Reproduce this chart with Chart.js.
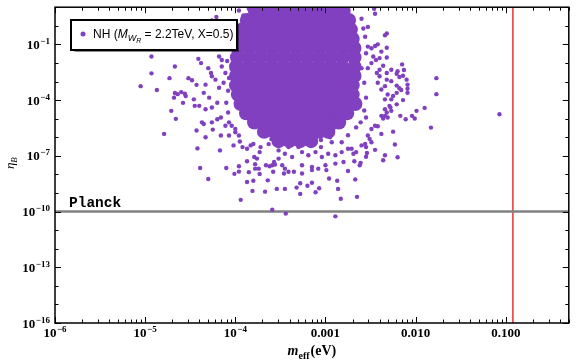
<!DOCTYPE html>
<html>
<head>
<meta charset="utf-8">
<script src="https://cdn.jsdelivr.net/npm/chart.js@4.4.0/dist/chart.umd.min.js"></script>
<style>
  html, body { margin: 0; padding: 0; background: #fff; }
</style>
</head>
<body>
<canvas id="etaChart" width="576" height="363"></canvas>
<script>
// all values are log10: [log10 m_eff (eV), log10 eta_B]

// dense core of the cloud, one row per eta level
const coreEtaLog = [0.8, 0.3, -0.2, -0.7, -1.2, -1.7, -2.2, -2.7, -3.2, -3.7, -4.2, -4.7, -5.2, -5.7, -6.2]
const coreMeffLog = [
    [-3.78, -3.65, -3.52, -3.39, -3.26, -3.13, -3.00, -2.87, -2.80],
    [-3.87, -3.74, -3.61, -3.48, -3.35, -3.22, -3.09, -2.96, -2.83, -2.74],
    [-3.92, -3.79, -3.66, -3.53, -3.40, -3.27, -3.14, -3.01, -2.88, -2.75, -2.72],
    [-3.94, -3.81, -3.68, -3.55, -3.42, -3.29, -3.16, -3.03, -2.90, -2.77, -2.70],
    [-3.97, -3.84, -3.71, -3.58, -3.45, -3.32, -3.19, -3.06, -2.93, -2.80, -2.68],
    [-3.98, -3.85, -3.72, -3.59, -3.46, -3.33, -3.20, -3.07, -2.94, -2.81, -2.68],
    [-3.99, -3.86, -3.73, -3.60, -3.47, -3.34, -3.21, -3.08, -2.95, -2.82, -2.68],
    [-3.99, -3.92, -3.79, -3.66, -3.53, -3.40, -3.27, -3.14, -3.01, -2.88, -2.75, -2.68],
    [-3.99, -3.86, -3.73, -3.60, -3.47, -3.34, -3.21, -3.08, -2.95, -2.82, -2.70],
    [-3.97, -3.91, -3.78, -3.65, -3.52, -3.39, -3.26, -3.13, -3.00, -2.87, -2.74, -2.70],
    [-3.94, -3.81, -3.68, -3.55, -3.42, -3.29, -3.16, -3.03, -2.90, -2.77, -2.67],
    [-3.88, -3.77, -3.64, -3.51, -3.38, -3.25, -3.12, -2.99, -2.86, -2.76],
    [-3.79, -3.68, -3.55, -3.42, -3.29, -3.16, -3.03, -2.90, -2.85],
    [-3.68, -3.57, -3.46, -3.33, -3.20, -3.07, -2.97],
    [-3.52, -3.40, -3.28, -3.16]
]

// scattered points around the core
const leftTail = [
    [-4.93, -1.65], [-4.67, -2.19], [-4.93, -2.56], [-4.73, -2.82], [-5.05, -3.25], [-4.87, -3.46],
    [-4.67, -3.62], [-4.64, -3.68], [-4.68, -3.87], [-4.60, -3.57], [-4.56, -3.66], [-4.52, -2.82],
    [-4.48, -2.93], [-4.43, -3.18], [-4.58, -4.15], [-4.71, -4.58], [-4.66, -5.01], [-4.45, -4.31],
    [-4.41, -1.78], [-4.38, -2.01], [-4.30, -2.28], [-4.27, -2.54], [-4.26, -2.72], [-4.22, -2.90],
    [-4.33, -3.17], [-4.55, -3.78], [-4.46, -3.96], [-4.35, -3.61], [-4.29, -3.87], [-4.40, -4.31],
    [-4.33, -4.49], [-4.26, -4.40], [-4.20, -4.14], [-4.18, -3.34], [-4.13, -3.07], [-4.15, -2.19],
    [-4.11, -2.54], [-4.18, -1.65], [-4.15, -1.84], [-4.26, -5.20], [-4.20, -5.03], [-4.16, -4.94],
    [-4.11, -5.38], [-4.08, -3.50], [-4.10, -4.14], [-4.08, -4.67], [-4.09, -1.90], [-4.07, -2.81]
]
const topEdge = [
    [-4.21, 0.47], [-4.26, 0.29], [-3.96, 0.82], [-3.91, 0.56], [-3.85, 0.91], [-3.80, 0.47],
    [-3.74, 0.74], [-3.59, 0.65], [-2.53, -0.06], [-2.60, 0.38], [-2.46, 0.91], [-2.45, 0.65],
    [-2.56, -0.59], [-2.58, -0.15]
]
const lowerTail = [
    [-4.79, -5.82], [-4.37, -5.20], [-4.35, -5.29], [-4.43, -5.64], [-4.33, -6.00], [-4.25, -5.59],
    [-4.42, -6.60], [-4.16, -5.91], [-4.17, -6.71], [-4.39, -7.66], [-4.30, -8.25], [-4.10, -7.66],
    [-3.96, -7.56], [-4.01, -7.97], [-3.96, -7.85], [-3.87, -8.41], [-3.80, -8.34], [-3.94, -9.37],
    [-3.81, -8.89], [-3.67, -8.93], [-3.64, -8.32], [-3.59, -9.90], [-3.54, -8.78], [-3.85, -7.88],
    [-3.73, -7.98], [-3.87, -7.29], [-3.78, -7.45], [-3.78, -7.69], [-3.74, -7.69], [-3.66, -7.51],
    [-3.62, -7.56], [-3.57, -7.33], [-3.56, -7.47], [-3.79, -7.06], [-3.76, -7.15], [-3.73, -6.80],
    [-4.07, -5.20], [-4.04, -5.38], [-4.00, -5.56], [-4.07, -5.91], [-4.00, -5.73], [-3.96, -5.91],
    [-4.02, -6.44], [-3.95, -6.23], [-3.92, -6.53], [-3.87, -6.62], [-3.83, -6.44], [-3.80, -6.36],
    [-3.44, -10.11], [-2.89, -10.26], [-3.45, -8.78], [-3.28, -9.05], [-3.32, -8.71], [-3.28, -8.48],
    [-3.20, -8.61], [-3.15, -8.45], [-3.11, -8.96], [-3.07, -8.75], [-2.86, -8.78], [-2.83, -9.31],
    [-2.65, -9.21], [-2.87, -8.34], [-2.96, -8.22], [-2.67, -8.27], [-2.75, -7.82], [-2.62, -7.51],
    [-2.61, -7.38], [-2.68, -7.29], [-2.55, -7.05], [-2.54, -6.85], [-2.45, -6.68], [-2.36, -7.24],
    [-2.34, -6.97], [-2.20, -7.08], [-2.23, -6.39], [-2.53, -5.91], [-2.51, -6.09], [-2.49, -6.27],
    [-2.60, -6.44], [-2.56, -6.36], [-2.55, -6.53], [-2.71, -6.62], [-2.69, -6.89], [-2.66, -6.80],
    [-3.59, -7.51], [-3.52, -7.15], [-3.48, -7.51], [-3.45, -7.69], [-3.41, -7.86], [-3.58, -7.86],
    [-3.46, -7.95], [-3.35, -7.86], [-3.26, -7.95], [-3.15, -7.77], [-3.08, -7.69], [-2.99, -7.77],
    [-3.26, -6.80], [-3.19, -6.97], [-3.11, -6.80], [-3.04, -7.06], [-2.97, -6.89], [-2.89, -6.97],
    [-2.82, -6.80], [-2.75, -6.62], [-3.45, -6.89], [-3.37, -7.06], [-3.52, -6.71], [-3.41, -6.53],
    [-3.30, -6.53], [-2.80, -7.33], [-2.89, -7.42], [-3.00, -7.51], [-3.15, -7.60], [-3.26, -7.51],
    [-2.66, -5.47], [-2.61, -5.20], [-2.75, -5.89], [-2.82, -6.27], [-2.93, -6.27], [-3.05, -6.53],
    [-3.16, -6.43], [-3.63, -6.37], [-3.72, -6.53], [-3.60, -6.10], [-3.05, -6.15], [-2.95, -6.00]
]
const rightTail = [
    [-2.38, -5.82], [-2.25, -5.70], [-2.17, -4.85], [-2.11, -5.03], [-2.04, -4.85], [-2.01, -4.99],
    [-2.28, -4.39], [-2.45, -5.38], [-2.42, -5.41], [-2.49, -5.56], [-2.32, -4.67], [-2.34, -4.85],
    [-2.36, -4.99], [-2.34, -0.51], [-2.32, -0.41], [-2.32, -1.18], [-2.42, -1.00], [-2.45, -1.09],
    [-2.32, -1.71], [-2.44, -1.84], [-2.36, -2.15], [-2.15, -2.08], [-2.13, -2.38], [-2.27, -2.37],
    [-2.21, -2.58], [-2.18, -2.76], [-2.32, -2.54], [-2.32, -2.90], [-2.14, -2.69], [-2.10, -2.90],
    [-2.09, -3.17], [-2.09, -3.39], [-2.09, -3.61], [-2.16, -3.46], [-2.21, -3.61], [-2.25, -3.78],
    [-2.31, -3.70], [-2.14, -4.00], [-2.34, -3.96], [-2.38, -3.43], [-2.42, -3.07], [-2.43, -2.54],
    [-2.40, -2.72], [-1.99, -4.58], [-2.53, -2.28], [-2.49, -2.01], [-2.47, -1.65], [-2.53, -1.12],
    [-2.49, -1.21], [-1.77, -2.82], [-1.77, -3.68], [-1.83, -5.48], [-1.90, -4.42], [-1.07, -4.76],
    [-2.18, -3.36], [-2.21, -3.22], [-2.27, -2.98], [-2.34, -3.25], [-2.27, -3.96], [-2.29, -4.31],
    [-2.34, -4.49], [-2.27, -4.58], [-2.38, -4.85], [-2.31, -4.94], [-2.21, -4.23], [-2.40, -2.37],
    [-2.20, -2.45], [-2.40, -1.74], [-2.38, -1.39], [-2.57, -3.07], [-2.55, -3.87], [-2.57, -4.56],
    [-2.55, -4.94], [-2.55, -1.48], [-2.60, -2.28]
]

const planckEta = 1e-10
const planckMass = 0.12

const xDecades = [-6, -5, -4, -3, -2, -1]
const xTickLabels = ['10^−6', '10^−5', '10^−4', '0.001', '0.010', '0.100']
const xMin = 1e-6
const xMax = 0.5
const yDecades = [-16, -15, -14, -13, -12, -11, -10, -9, -8, -7, -6, -5, -4, -3, -2, -1, 0, 1]
const yMajor = [-16, -13, -10, -7, -4, -1]
const yTickLabels = ['10^−16', '10^−13', '10^−10', '10^−7', '10^−4', '10^−1']

const purple = 'rgb(128,64,192)'

const toPoint = ([lx, ly]) => ({ x: 10 ** lx, y: 10 ** ly })
const corePoints = []
coreEtaLog.forEach((ly, i) => coreMeffLog[i].forEach(lx => corePoints.push(toPoint([lx, ly]))))
const loosePoints = [...leftTail, ...topEdge, ...lowerTail, ...rightTail].map(toPoint)

const baseFont = 'bold 13px "Liberation Serif"'
const expFont = 'bold 9px "Liberation Serif"'

// "10^−4" -> base text plus raised exponent; returns width, draws if asked
function tickLabel(ctx, label, x, base, draw) {
    const [b, e] = label.split('^')
    ctx.font = baseFont
    const wb = ctx.measureText(b).width
    let we = 0
    if (e) { ctx.font = expFont; we = ctx.measureText(e).width + 0.5 }
    if (draw) {
        ctx.font = baseFont
        ctx.fillText(b, x, base)
        if (e) { ctx.font = expFont; ctx.fillText(e, x + wb + 0.5, base - 5) }
    }
    return wb + we
}

// inward ticks on all four sides, the frame and the tick labels
const frameTicks = {
    id: 'frameTicks',
    afterDatasetsDraw(chart) {
        const { ctx, chartArea: a, scales: { x, y } } = chart
        ctx.save()
        ctx.strokeStyle = '#000'
        ctx.lineWidth = 1
        ctx.beginPath()
        x.ticks.forEach(t => {
            const p = Math.round(x.getPixelForValue(t.value)) + 0.5
            const len = t.major ? 6 : 3.5
            ctx.moveTo(p, a.bottom); ctx.lineTo(p, a.bottom - len)
            ctx.moveTo(p, a.top); ctx.lineTo(p, a.top + len)
        })
        y.ticks.forEach(t => {
            const p = Math.round(y.getPixelForValue(t.value)) + 0.5
            const len = t.major ? 6 : 3.5
            ctx.moveTo(a.left, p); ctx.lineTo(a.left + len, p)
            ctx.moveTo(a.right, p); ctx.lineTo(a.right - len, p)
        })
        ctx.stroke()
        ctx.lineWidth = 1.5
        ctx.strokeRect(a.left, a.top, a.right - a.left, a.bottom - a.top)

        ctx.fillStyle = '#000'
        ctx.textBaseline = 'alphabetic'
        ctx.textAlign = 'left'
        xDecades.forEach((d, i) => {
            const p = x.getPixelForValue(10 ** d)
            const w = tickLabel(ctx, xTickLabels[i], 0, 0, false)
            tickLabel(ctx, xTickLabels[i], p - w / 2, a.bottom + 14, true)
        })
        yMajor.forEach((d, i) => {
            const p = y.getPixelForValue(10 ** d)
            const w = tickLabel(ctx, yTickLabels[i], 0, 0, false)
            tickLabel(ctx, yTickLabels[i], a.left - 5 - w, p + 4.5, true)
        })
        ctx.restore()
    }
}

// legend box, Planck label and axis titles with subscripts
const annotations = {
    id: 'annotations',
    afterDraw(chart) {
        const { ctx, chartArea: a, scales: { y } } = chart
        ctx.save()

        // Planck label above the line
        ctx.fillStyle = '#000'
        ctx.font = 'bold 14.5px "Liberation Mono"'
        ctx.textBaseline = 'alphabetic'
        ctx.fillText('Planck', 69, y.getPixelForValue(planckEta) - 5)

        // legend
        ctx.save()
        ctx.shadowColor = 'rgba(0,0,0,0.45)'
        ctx.shadowOffsetX = 1.5
        ctx.shadowOffsetY = 1.5
        ctx.shadowBlur = 1
        ctx.fillStyle = '#fff'
        ctx.fillRect(71, 20, 166, 30)
        ctx.restore()
        ctx.lineWidth = 2
        ctx.strokeStyle = '#000'
        ctx.strokeRect(71, 20, 166, 30)
        ctx.fillStyle = purple
        ctx.beginPath()
        ctx.arc(83, 34, 2.5, 0, Math.PI * 2)
        ctx.fill()
        ctx.fillStyle = '#000'
        let cx = 93
        const put = (txt, font, base) => {
            ctx.font = font
            ctx.fillText(txt, cx, base)
            cx += ctx.measureText(txt).width
        }
        put('NH (', '12px "Liberation Sans"', 38)
        put('M', 'italic 12px "Liberation Sans"', 38)
        put('W', 'italic 9px "Liberation Sans"', 40.5)
        put('R', 'italic 7px "Liberation Sans"', 43)
        put(' = 2.2TeV, X=0.5)', '12px "Liberation Sans"', 38)

        // x title
        ctx.font = 'italic bold 14px "Liberation Serif"'
        const wM = ctx.measureText('m').width
        ctx.font = 'bold 10px "Liberation Serif"'
        const wE = ctx.measureText('eff').width
        ctx.font = 'bold 14px "Liberation Serif"'
        const wP = ctx.measureText('(eV)').width
        cx = (a.left + a.right) / 2 - (wM + wE + wP + 1) / 2
        put('m', 'italic bold 14px "Liberation Serif"', 355)
        put('eff', 'bold 10px "Liberation Serif"', 359)
        cx += 1
        put('(eV)', 'bold 14px "Liberation Serif"', 355)

        // y title
        ctx.translate(14, (a.top + a.bottom) / 2 + 4)
        ctx.rotate(-Math.PI / 2)
        ctx.font = 'italic 13px "Liberation Serif"'
        ctx.fillText('η', 0, 0)
        const wEta = ctx.measureText('η').width
        ctx.font = 'italic 9px "Liberation Serif"'
        ctx.fillText('B', wEta, 3)
        ctx.restore()
    }
}

const etaConfig = {
    type: 'scatter',
    data: {
        datasets: [
            {
                label: 'NH core',
                data: corePoints,
                pointRadius: 7.2,
                pointBorderWidth: 0,
                backgroundColor: purple,
                clip: 0,
                order: 2
            },
            {
                label: 'NH',
                data: loosePoints,
                pointRadius: 2.2,
                pointBorderWidth: 0,
                backgroundColor: purple,
                clip: 0,
                order: 1
            },
            {
                label: 'Planck eta',
                data: [{ x: xMin, y: planckEta }, { x: xMax, y: planckEta }],
                showLine: true,
                borderColor: 'rgb(128,128,128)',
                borderWidth: 2.5,
                pointRadius: 0,
                clip: 0,
                order: 3
            },
            {
                label: 'Planck mass',
                data: [{ x: planckMass, y: 1e-16 }, { x: planckMass, y: 10 }],
                showLine: true,
                borderColor: 'rgb(225,0,0)',
                borderWidth: 1.2,
                pointRadius: 0,
                clip: 0,
                order: 3
            }
        ]
    },
    options: {
        responsive: false,
        animation: false,
        devicePixelRatio: 1,
        events: [],
        layout: { padding: { top: 5, right: 5, left: 0, bottom: 0 } },
        plugins: {
            legend: { display: false },
            tooltip: { enabled: false }
        },
        scales: {
            x: {
                type: 'logarithmic',
                min: xMin,
                max: xMax,
                grid: { display: false, drawTicks: false },
                border: { display: false },
                afterBuildTicks: s => {
                    const t = []
                    xDecades.forEach(d => {
                        for (let m = 1; m <= 9; m++) {
                            const v = m * 10 ** d
                            if (v <= xMax * 1.0001) t.push({ value: v, major: m === 1 })
                        }
                    })
                    s.ticks = t
                },
                afterFit: s => { s.height = 40 },
                ticks: { display: false }
            },
            y: {
                type: 'logarithmic',
                min: 1e-16,
                max: 10,
                grid: { display: false, drawTicks: false },
                border: { display: false },
                afterBuildTicks: s => {
                    s.ticks = yDecades.map(d => ({ value: 10 ** d, major: yMajor.includes(d) }))
                },
                afterFit: s => { s.width = 55 },
                ticks: { display: false }
            }
        }
    },
    plugins: [frameTicks, annotations]
}

new Chart('etaChart', etaConfig)
</script>
</body>
</html>
